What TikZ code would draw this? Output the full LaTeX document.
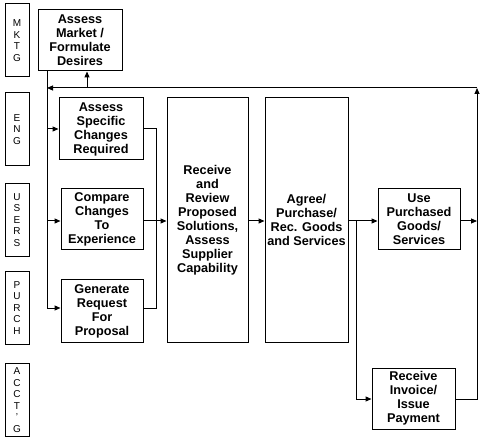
\documentclass[tikz,border=0pt]{standalone}
\usepackage{fontspec}
\setmainfont{Liberation Sans}
\usetikzlibrary{arrows.meta}
\begin{document}
\begin{tikzpicture}[x=1pt,y=-1pt,
  every path/.style={line width=1pt},
  lane/.style={draw, line width=1pt, minimum width=24pt, minimum height=73pt, inner sep=0pt,
     align=center, font=\fontsize{10}{11.5}\selectfont},
  proc/.style={draw, line width=1pt, inner sep=0pt, align=center,
     font=\fontsize{12.7}{14}\selectfont\bfseries},
  arr/.style={-{Triangle[length=6pt,width=5pt]}}]
\useasboundingbox (0,0) rectangle (487,446);
% lanes
\node[lane] (mktg) at (17,40.5) {M\\K\\T\\G};
\node[lane] (eng) at (17,129.5) {E\\N\\G};
\node[lane] (users) at (17,220) {U\\S\\E\\R\\S};
\node[lane] (purch) at (17,308) {P\\U\\R\\C\\H};
\node[lane] (acctg) at (17,400) {A\\C\\C\\T\\'\\G};
% process boxes
\node[proc, minimum width=84pt, minimum height=61pt] (market) at (80,40.5) {Assess\\Market /\\Formulate\\Desires};
\node[proc, minimum width=84pt, minimum height=62pt] (specific) at (101,129) {Assess\\Specific\\Changes\\Required};
\node[proc, minimum width=82pt, minimum height=61pt] (compare) at (102,219.5) {Compare\\Changes\\To\\Experience};
\node[proc, minimum width=82pt, minimum height=62pt] (generate) at (102,311) {Generate\\Request\\For\\Proposal};
\node[proc, minimum width=81pt, minimum height=244pt] (review) at (207.5,220) {Receive\\and\\Review\\Proposed\\Solutions,\\Assess\\Supplier\\Capability};
\node[proc, minimum width=83pt, minimum height=244pt] (agree) at (306.5,220) {Agree/\\Purchase/\\Rec. Goods\\and Services};
\node[proc, minimum width=82pt, minimum height=61pt] (use) at (419,219.5) {Use\\Purchased\\Goods/\\Services};
\node[proc, minimum width=83pt, minimum height=61pt] (invoice) at (413.5,398.5) {Receive\\Invoice/\\Issue\\Payment};
% coordinates
\coordinate (ltop) at (47,71);
\coordinate (lbot) at (47,308);
\coordinate (fbL) at (47,88);
\coordinate (fbR) at (477,88);
\coordinate (fbM) at (87,88);
\coordinate (rb) at (477,399);
\coordinate (ue) at (477,221);
\coordinate (ja) at (356,221);
\coordinate (jb) at (356,399);
\coordinate (b1) at (156,129);
\coordinate (b2) at (156,308);
\coordinate (b3) at (156,221);
% left distribution
\draw (ltop) -- (lbot);
\draw[arr] (47,129) -- (specific.west |- 0,129);
\draw[arr] (47,221) -- (compare.west |- 0,221);
\draw[arr] (lbot) -- (generate.west |- lbot);
% feedback loop
\draw[arr] (rb -| invoice.east) -- (rb) -- (fbR);
\draw[arr] (fbR) -- (fbL);
\draw[arr] (fbM) -- (market.south -| fbM);
% bracket
\draw (specific.east |- b1) -- (b1) -- (b2) -- (generate.east |- b2);
\draw (compare.east |- b3) -- (b3);
\draw[arr] (b3) -- (review.west |- b3);
\draw[arr] (review.east |- b3) -- (agree.west |- b3);
\draw[arr] (agree.east |- ja) -- (use.west |- ja);
\draw[arr] (ja) -- (jb) -- (invoice.west |- jb);
\draw[arr] (use.east |- ue) -- (ue);
\end{tikzpicture}
\end{document}
